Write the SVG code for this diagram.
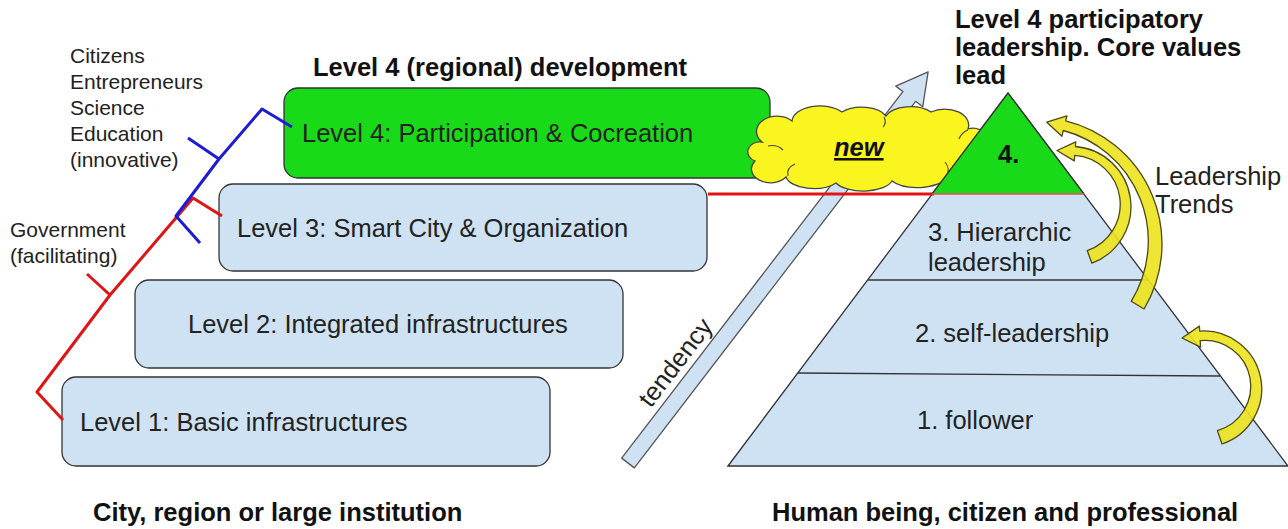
<svg xmlns="http://www.w3.org/2000/svg" width="1288" height="529" viewBox="0 0 1288 529">
<style>
text{font-family:"Liberation Sans",Arial,sans-serif;fill:#222}
.t{font-size:25.5px}
.b{font-size:25.5px;font-weight:bold;fill:#111}
.s{font-size:21px}
.box{fill:#cfe2f3;stroke:#333;stroke-width:1.3}
.green{fill:#18da18;stroke:#333;stroke-width:1.3}
.line{fill:none;stroke:#333;stroke-width:1.3}
.yarr{fill:#ece31c;fill-opacity:0.9;stroke:#4d4a10;stroke-width:1.3;stroke-linejoin:round}
.red{fill:none;stroke:#e01414;stroke-width:3;stroke-linejoin:round}
.blue{fill:none;stroke:#1c1cd6;stroke-width:3;stroke-linejoin:round}
</style>
<rect width="1288" height="529" fill="#fff"/>

<g id="level1">
<rect class="box" x="62" y="377" width="488" height="89" rx="14"/>
<text class="t" x="80" y="431">Level 1: Basic infrastructures</text>
</g>
<g id="level2">
<rect class="box" x="135" y="280" width="488" height="88" rx="14"/>
<text class="t" x="188" y="333">Level 2: Integrated infrastructures</text>
</g>
<g id="level3">
<rect class="box" x="219" y="184" width="488" height="87" rx="14"/>
<text class="t" x="237" y="237">Level 3: Smart City &amp; Organization</text>
</g>
<g id="level4">
<rect class="green" x="284" y="88" width="486" height="90" rx="14"/>
<text class="t" x="302" y="142">Level 4: Participation &amp; Cocreation</text>
</g>

<g id="pyramid">
<polygon class="box" points="728,466 1008,93 1288,466"/>
<line class="line" x1="868" y1="280" x2="1148" y2="280"/>
<line class="line" x1="798" y1="373" x2="1220" y2="376"/>
</g>

<g id="tendency" transform="translate(628,463) rotate(-52.5)">
<polygon points="0,-8 462,-8 462,-17 493,0 462,17 462,8 0,8" fill="#cfe2f3" stroke="#555" stroke-width="1.3" stroke-linejoin="round"/>
<text class="t" x="57" y="-15">tendency</text>
</g>

<g id="connectors">
<path class="red" d="M63,420 L37,392 L110,295 L87,274 M110,295 L193,198 L222,216"/>
<path class="blue" d="M292,127 L262,109 L219,159 L188,138 M219,159 L176,216 L200,243"/>
<line x1="708" y1="194" x2="934" y2="194" stroke="#e01414" stroke-width="3"/>
</g>

<g id="cloud">
<path d="M762,142 A20 15 0 0 1 792,121 A28 16 0 0 1 842,112 A26 14 0 0 1 886,116 A26 14 0 0 1 931,112 A24 16 0 0 1 968,129 A15 14 0 0 1 978,156 A22 16 0 0 1 946,178 A30 14 0 0 1 892,181 A30 14 0 0 1 836,183 A28 14 0 0 1 786,177 A18 13 0 0 1 755,161 A12 10 0 0 1 762,142 Z" fill="#fbf51f" stroke="#444" stroke-width="1.3"/>
<path d="M768,146 q9,-2 15,4 M788,176 q-2,-8 7,-12 M946,177 q5,-8 -1,-15 M884,117 q3,6 -1,10 M968,130 q-6,2 -9,9" fill="none" stroke="#444" stroke-width="1.1"/>
<text x="834" y="156" style="font-size:25.5px;font-weight:bold;font-style:italic;text-decoration:underline;fill:#111">new</text>
</g>

<g id="level4-top">
<polygon points="932,194 1008,93 1084,194" fill="#18da18"/>
<polyline class="line" points="932,194 1008,93 1084,194"/>
<line x1="932" y1="194" x2="1084" y2="194" stroke="#e05050" stroke-width="1.5"/>
<text class="b" x="998" y="163">4.</text>
</g>

<g id="trend-arrows">
<path class="yarr" d="M1131.2,301.3 L1144.1,309 A127 127 0 0 0 1065.7,120.8 L1066.9,115.9 L1046.8,122.2 L1061.9,136.3 L1063.3,130.5 A114.5 114.5 0 0 1 1131.2,301.3 Z"/>
<path class="yarr" d="M1087.2,250.6 L1091.9,263.2 A60.4 60.4 0 0 0 1075.4,146.5 L1075.8,141.9 L1057,150.5 L1074.3,160.9 L1074.7,155.4 A49 49 0 0 1 1087.2,250.6 Z"/>
<path class="yarr" d="M1217.4,430.6 L1222,444 A58 58 0 0 0 1199.7,331.1 L1199.4,326.1 L1182,338 L1200.6,347.1 L1200.2,340.6 A46 46 0 0 1 1217.4,430.6 Z"/>
</g>

<g id="pyramid-labels">
<text class="t" x="928" y="241">3. Hierarchic</text>
<text class="t" x="928" y="271">leadership</text>
<text class="t" x="915" y="342">2. self-leadership</text>
<text class="t" x="917" y="429">1. follower</text>
<text class="t" x="1155" y="185">Leadership</text>
<text class="t" x="1155" y="213">Trends</text>
</g>

<g id="actors">
<text class="s" x="70" y="63">Citizens</text>
<text class="s" x="70" y="89">Entrepreneurs</text>
<text class="s" x="70" y="115">Science</text>
<text class="s" x="70" y="141">Education</text>
<text class="s" x="70" y="167">(innovative)</text>
<text class="s" x="10" y="237">Government</text>
<text class="s" x="10" y="263">(facilitating)</text>
</g>

<g id="titles">
<text class="b" x="313" y="76">Level 4 (regional) development</text>
<text class="b" x="955" y="28">Level 4 participatory</text>
<text class="b" x="955" y="56">leadership. Core values</text>
<text class="b" x="955" y="84">lead</text>
<text class="b" x="93" y="521">City, region or large institution</text>
<text class="b" x="772" y="521">Human being, citizen and professional</text>
</g>
</svg>
